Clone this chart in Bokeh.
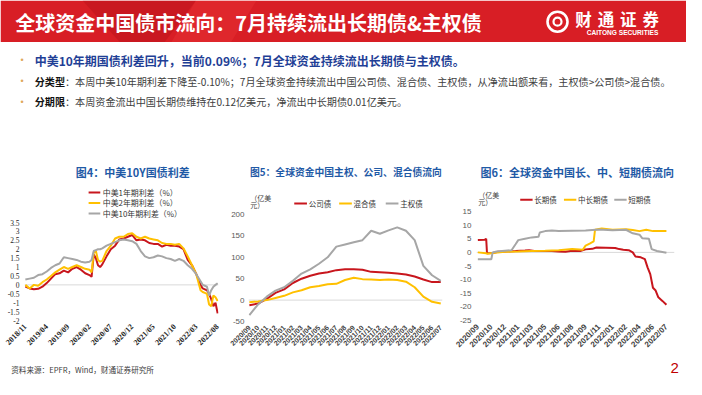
import math
from bokeh.plotting import figure
from bokeh.layouts import column, row
from bokeh.models import Range1d, FixedTicker, Span
from bokeh.core.properties import value
from bokeh.embed import file_html
from bokeh.resources import INLINE

CJK = "Noto Sans CJK SC"
SERIF = "Liberation Serif"
SANS = "Liberation Sans"
RED = "#c8161d"
YEL = "#ffc000"
GRY = "#a6a6a6"
TITLE_BLUE = "#1f5aa6"

# ---------------- data: chart 4 (China-US yield spread, %)
spread_tick_labels = ["2018/11", "2019/04", "2019/09", "2020/02", "2020/07",
                      "2020/12", "2021/05", "2021/10", "2022/03", "2022/08"]
spread_ticks = [0, 5, 10, 15, 20, 25, 30, 35, 40, 45]  # months since 2018/11
spread_x = [0, 1, 2, 3, 4, 5, 6, 7, 8, 9, 10, 11, 12, 13, 14, 15, 15.5, 16, 16.5, 17, 17.5,
            18, 19, 20, 21, 22, 23, 24, 25, 26, 27, 28, 29, 30, 31, 32, 33, 34, 35, 36, 37,
            38, 39, 40, 41, 41.5, 42, 42.5, 43, 43.5, 44, 44.5, 45]
spread_1y = [-0.1, -0.2, -0.25, -0.22, -0.1, 0.1, 0.35, 0.6, 0.65, 0.8, 0.7, 0.9, 1.0, 0.85,
             0.65, 0.55, 0.45, 1.7, 1.5, 1.1, 1.0, 1.15, 1.6, 2.0, 2.2, 2.55, 2.6, 2.7, 2.8,
             2.5, 2.55, 2.5, 2.35, 2.3, 2.3, 2.15, 2.25, 2.2, 2.2, 2.15, 2.0, 1.4, 1.1, 0.6,
             0.0, -0.2, -0.25, -0.3, -0.5, -0.8, -1.2, -1.0, -1.6]
spread_2y = [0.0, -0.2, 0.0, -0.05, 0.15, 0.3, 0.5, 0.7, 0.85, 1.0, 0.9, 1.0, 1.1, 1.0, 0.9,
             0.85, 0.7, 1.8, 1.9, 1.4, 1.3, 1.35, 1.9, 2.2, 2.6, 2.7, 2.7, 2.85, 2.9, 2.7, 2.6,
             2.7, 2.6, 2.55, 2.5, 2.35, 2.3, 2.3, 2.25, 2.3, 2.05, 1.6, 1.1, 0.6, -0.3, -0.4,
             -0.45, -0.5, -1.1, -1.2, -0.6, -0.7, -0.9]
spread_10y = [0.3, 0.35, 0.4, 0.55, 0.6, 0.75, 0.95, 1.1, 1.2, 1.55, 1.5, 1.45, 1.4, 1.3, 1.25,
              1.3, 1.4, 1.9, 1.95, 2.0, 2.0, 2.05, 2.2, 2.3, 2.4, 2.5, 2.55, 2.5, 2.45, 2.3, 1.9,
              1.6, 1.5, 1.55, 1.65, 1.6, 1.5, 1.45, 1.35, 1.45, 1.35, 1.1, 0.9, 0.6, 0.2, 0.0,
              -0.05, -0.1, -0.6, -0.3, -0.1, 0.0, 0.09]
spread_yticks = [-2, -1.5, -1, -0.5, 0, 0.5, 1, 1.5, 2, 2.5, 3, 3.5]
spread_ylabels = ["-2", "-1.5", "-1", "-0.5", "0", "0.5", "1", "1.5", "2", "2.5", "3", "3.5"]
spread_names = ["中美1年期利差（%）", "中美2年期利差（%）", "中美10年期利差（%）"]

# ---------------- data: chart 5 (by type, 亿美元), monthly 2020/09 - 2022/07
type_tick_labels = ["2020/09", "2020/10", "2020/11", "2020/12", "2021/01", "2021/02", "2021/03",
                    "2021/04", "2021/05", "2021/06", "2021/07", "2021/08", "2021/09", "2021/10",
                    "2021/11", "2021/12", "2022/01", "2022/02", "2022/03", "2022/04", "2022/05",
                    "2022/06", "2022/07"]
type_x = list(range(len(type_tick_labels)))
type_corp = [-12, -8, 3, 17, 25, 40, 50, 57, 62, 65, 70, 72, 72, 71, 66, 65, 64, 62, 60, 55, 48, 42, 42]
type_mixed = [-5, -3, 0, 5, 10, 18, 23, 30, 33, 37, 38, 47, 52, 49, 48, 47, 48, 47, 43, 30, 8, -4, -8]
type_sov = [-35, -10, 8, 22, 30, 45, 62, 72, 85, 100, 125, 130, 135, 140, 162, 155, 163, 170, 162, 140, 80, 58, 45]
type_yticks = [-50, 0, 50, 100, 150, 200]
type_ylabels = ["-50", "0", "50", "100", "150", "200"]
type_names = ["公司债", "混合债", "主权债"]

# ---------------- data: chart 6 (by term, 亿美元)
term_tick_labels = ["2020/09", "2020/10", "2020/12", "2021/01", "2021/03", "2021/05", "2021/06",
                    "2021/08", "2021/09", "2021/11", "2022/01", "2022/02", "2022/04", "2022/06",
                    "2022/07"]
term_ticks = list(range(len(term_tick_labels)))
term_long_x = [0, 0.5, 0.62, 0.68, 1.1, 1.5, 2.0, 2.8, 3.5, 3.8, 4.2, 5.5, 6.0, 6.5, 7.0, 7.6,
               8.0, 8.5, 8.8, 9.5, 10.2, 10.5, 10.8, 11.2, 11.5, 11.7, 12.1, 12.4, 12.6, 12.8,
               13.0, 13.2, 13.4, 13.7, 14.0]
term_long = [4.5, 4.6, 5.0, -0.3, -0.2, 0.2, 0.3, 0.5, 0.7, 0.8, 0.5, 0.5, 0.3, 0.2, 0.6, 0.5,
             1.1, 1.3, 1.8, 1.7, 1.6, 1.2, 1.0, 0.8, 0.0, -1.5, -1.8, -2.5, -5.5, -8.0, -13.0,
             -14.0, -16.5, -17.8, -19.2]
term_mid_x = [0, 0.6, 0.7, 1.1, 2.0, 3.0, 4.0, 5.0, 6.0, 7.0, 7.8, 8.0, 8.3, 8.6, 8.7, 9.2,
              10.0, 11.0, 11.5, 12.0, 12.5, 13.0, 14.0]
term_mid = [0.0, -0.3, -0.5, -0.2, 0.2, 0.3, 0.5, 0.6, 0.8, 1.2, 1.0, 2.5, 3.2, 4.0, 8.3, 8.8,
            8.3, 8.5, 8.2, 7.8, 8.3, 7.8, 7.8]
term_short_x = [0, 1.0, 1.1, 1.4, 2.0, 2.5, 2.8, 3.0, 3.5, 4.0, 4.5, 4.6, 5.0, 5.5, 6.0, 7.0,
                8.0, 9.0, 10.0, 11.0, 11.5, 12.0, 12.2, 12.7, 12.9, 13.3, 14.0]
term_short = [-2.5, -2.5, 0.0, 0.3, 0.6, 0.8, 3.0, 4.5, 5.0, 5.5, 5.7, 7.3, 7.8, 8.0, 7.8, 7.9,
              8.0, 8.4, 8.1, 8.3, 7.0, 6.5, 5.2, 5.0, 1.2, 0.5, -0.1]
term_yticks = [-25, -20, -15, -10, -5, 0, 5, 10, 15]
term_ylabels = ["-25", "-20", "-15", "-10", "-5", "0", "5", "10", "15"]
term_names = ["长期债", "中长期债", "短期债"]


# ---------------- helpers
def blank(w, h, x0, x1, y_top, y_bot):
    p = figure(width=w, height=h, x_range=Range1d(x0, x1), y_range=Range1d(y_bot, y_top),
               x_axis_location=None, y_axis_location=None, output_backend="svg",
               toolbar_location=None, min_border=0, title=None)
    p.grid.grid_line_color = None
    p.outline_line_color = None
    p.background_fill_color = "white"
    p.border_fill_color = "white"
    return p


def txt(p, x, y, s, size, color="#404040", bold=False, align="left", font=CJK):
    p.text(x=[x], y=[y], text=[s], text_font=value(font), text_font_size=f"{size}px",
           text_color=color, text_font_style="bold" if bold else "normal",
           text_align=align, text_baseline="middle")


def chart(w, h, xr, yr, bl, br, bt, bb):
    p = figure(width=w, height=h, x_range=Range1d(*xr), y_range=Range1d(*yr),
               output_backend="svg", toolbar_location=None, title=None,
               min_border_left=bl, min_border_right=br, min_border_top=bt, min_border_bottom=bb)
    p.grid.grid_line_color = None
    p.outline_line_color = None
    p.background_fill_color = "white"
    p.border_fill_color = "white"
    for ax in (p.xaxis[0], p.yaxis[0]):
        ax.axis_line_color = None
        ax.major_tick_line_color = None
        ax.minor_tick_line_color = None
        ax.major_tick_out = 0
        ax.major_tick_in = 0
        ax.minor_tick_out = 0
        ax.minor_tick_in = 0
    p.xaxis[0].major_label_orientation = math.pi / 4
    zero = Span(location=0, dimension="width", line_color="#d9d9d9", line_width=1, level="underlay")
    p.add_layout(zero)
    return p


def ticks(ax, locs, labels, font, size, color, bold=False, standoff=4):
    ax.ticker = FixedTicker(ticks=locs, minor_ticks=[])
    ax.major_label_overrides = {float(k): v for k, v in zip(locs, labels)}
    ax.major_label_text_font = font
    ax.major_label_text_font_size = f"{size}px"
    ax.major_label_text_color = color
    ax.major_label_text_font_style = "bold" if bold else "normal"
    ax.major_label_standoff = standoff


# ---------------- slide top (header + bullets), drawn in slide units 0..702 x 0..160
top = blank(686, 154, 0, 702, 0, 160)
top.quad(left=[0], right=[702], top=[0], bottom=[43], fill_color="#d81e25", line_color=None)
top.patch(x=[84, 200, 168, 122], y=[0, 0, 43, 43], fill_color="#b8121a", fill_alpha=0.45, line_color=None)
top.patch(x=[200, 262, 236, 175], y=[0, 0, 43, 43], fill_color="#ee3a3a", fill_alpha=0.35, line_color=None)
txt(top, 15, 23, "全球资金中国债市流向：7月持续流出长期债&主权债", 20, "white", bold=True)
# logo
top.scatter(x=[570], y=[22], marker="circle", size=20, fill_color=None, line_color="white", line_width=2.6)
top.scatter(x=[570], y=[22], marker="circle", size=8, fill_color=None, line_color="white", line_width=2.2)
top.text(x=[596.5, 619.5, 642.5, 665.5], y=[19.5] * 4, text=["财", "通", "证", "券"],
         text_font=value(CJK), text_font_size="16.5px", text_color="white",
         text_font_style="bold", text_align="center", text_baseline="middle")
txt(top, 636.5, 33, "CAITONG SECURITIES", 6.6, "white", bold=True, align="center", font=SANS)

# bullets
for yy in (62, 84, 105):
    txt(top, 22, yy, "•", 9, "#dfa85c", align="center", font=SANS)
txt(top, 35, 62, "中美10年期国债利差回升，当前0.09%；7月全球资金持续流出长期债与主权债。", 12, "#1f3f96", bold=True)
fs = 10.1
off = 35 + 3 * fs / 0.977
txt(top, 35, 84, "分类型", fs, "#111111", bold=True)
txt(top, off, 84, "：本周中美10年期利差下降至-0.10%；7月全球资金持续流出中国公司债、混合债、主权债，从净流出额来看，主权债>公司债>混合债。", fs, "#404040")
txt(top, 35, 105, "分期限", fs, "#111111", bold=True)
txt(top, off, 105, "：本周资金流出中国长期债维持在0.12亿美元，净流出中长期债0.01亿美元。", fs, "#404040")

# ---------------- chart 4
t1 = blank(228, 64, 0, 233, 160, 226.7)
txt(t1, 130, 178, "图4：中美10Y国债利差", 11, TITLE_BLUE, bold=True, align="center")
for yy, col, name in zip((199.5, 210.5, 221.5), (RED, YEL, GRY), spread_names):
    t1.segment(x0=[77], y0=[yy], x1=[91], y1=[yy], line_color=col, line_width=2)
    txt(t1, 94, yy, name, 7.9, "#333333")

c1 = chart(228, 142, (-0.2, 45.2), (-2, 3.5), 24, 10, 4, 40)
for ys, col in ((spread_1y, RED), (spread_2y, YEL), (spread_10y, GRY)):
    c1.line(spread_x, ys, line_color=col, line_width=2)
ticks(c1.xaxis[0], spread_ticks, spread_tick_labels, SERIF, 8, "#262626", bold=True, standoff=5)
ticks(c1.yaxis[0], spread_yticks, spread_ylabels, SERIF, 7.5, "#262626", standoff=5)

# ---------------- chart 5
t2 = blank(224, 56, 233, 462, 160, 218.4)
txt(t2, 348, 178, "图5：全球资金中国主权、公司、混合债流向", 9.8, TITLE_BLUE, bold=True, align="center")
for x0, col, name in zip((287, 340, 395), (RED, YEL, GRY), type_names):
    t2.segment(x0=[x0], y0=[211], x1=[x0 + 15], y1=[211], line_color=col, line_width=2)
    txt(t2, x0 + 17, 211, name, 7.5, "#333333")
txt(t2, 235, 205.5, "（亿美", 7, "#404040")
txt(t2, 235, 212.5, "元）", 7, "#404040")

c2 = chart(224, 150, (-0.1, 22.2), (-50, 200), 20, 10, 4, 39)
for ys, col in ((type_corp, RED), (type_mixed, YEL), (type_sov, GRY)):
    c2.line(type_x, ys, line_color=col, line_width=2)
ticks(c2.xaxis[0], type_x, type_tick_labels, SANS, 7, "#404040", bold=True, standoff=5)
ticks(c2.yaxis[0], type_yticks, type_ylabels, SANS, 8, "#595959", standoff=4)

# ---------------- chart 6
t3 = blank(234, 53, 462, 702, 160, 215.2)
txt(t3, 584, 178, "图6：全球资金中国长、中、短期债流向", 11, TITLE_BLUE, bold=True, align="center")
for x0, col, name in zip((515, 568, 629), (RED, YEL, GRY), term_names):
    t3.segment(x0=[x0], y0=[207], x1=[x0 + 15], y1=[207], line_color=col, line_width=2)
    txt(t3, x0 + 17, 207, name, 7.5, "#333333")
txt(t3, 464, 202.5, "（亿美", 7, "#404040")
txt(t3, 464, 209.5, "元）", 7, "#404040")

c3 = chart(234, 153, (-0.1, 14.6), (-25, 15), 24, 12, 4, 40)
c3.line(term_long_x, term_long, line_color=RED, line_width=2)
c3.line(term_mid_x, term_mid, line_color=YEL, line_width=2)
c3.line(term_short_x, term_short, line_color=GRY, line_width=2)
ticks(c3.xaxis[0], term_ticks, term_tick_labels, SANS, 8, "#404040", bold=True, standoff=5)
ticks(c3.yaxis[0], term_yticks, term_ylabels, SANS, 8, "#595959", standoff=5)

# ---------------- footer
foot = blank(686, 19, 0, 702, 375, 395)
txt(foot, 11, 384, "资料来源：EPFR，Wind，财通证券研究所", 7.6, "#404040")
txt(foot, 690, 383, "2", 15, "#c00000", align="center", font=SANS)

layout = column(top, row(column(t1, c1), column(t2, c2), column(t3, c3)), foot)
open("out.html", "w").write(file_html(layout, INLINE))
